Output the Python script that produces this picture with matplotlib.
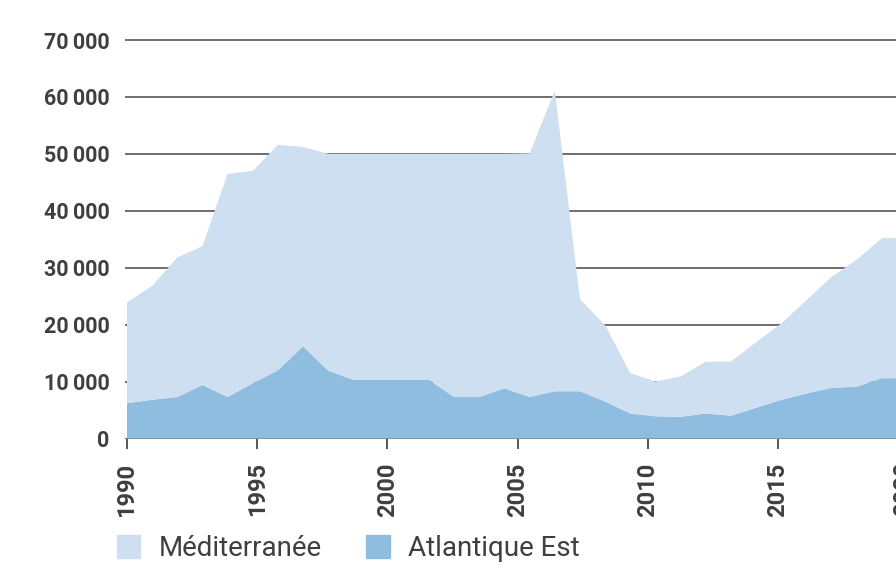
import numpy as np
import matplotlib
matplotlib.use("Agg")
import matplotlib.pyplot as plt
from matplotlib.patches import Patch

plt.rcParams['font.family'] = ['Roboto', 'DejaVu Sans']

#########Data (tonnes)############
years = np.arange(1990, 2022)
atlantique = [6200, 6800, 7300, 9400, 7300, 9700, 12000, 16200, 11900, 10300,
              10300, 10300, 10300, 7300, 7300, 8800, 7300, 8300, 8300, 6500,
              4400, 3900, 3800, 4400, 4000, 5400, 6800, 7900, 8900, 9100,
              10600, 10600]
mediterranee = [17700, 20000, 24500, 24400, 39200, 37300, 39600, 35000, 38100, 39700,
                39700, 39700, 39700, 42700, 42700, 41200, 42800, 52800, 16200, 13400,
                7100, 6100, 7100, 9100, 9500, 11500, 13400, 16400, 19500, 22300,
                24600, 24600]
labels = ['Méditerranée', 'Atlantique Est']
tick_years = [1990, 1995, 2000, 2005, 2010, 2015]
last_year = 2020
y_ticks = np.arange(0, 70001, 10000)
###################################

light = '#cddff0'
dark = '#8fbde0'
text_col = '#3f3f3f'

fig = plt.figure(figsize=(8.96, 5.70), dpi=100)
ax = fig.add_axes([0.1395, 0.2307, 0.8605, 0.7091])

# atlantique at the bottom, mediterranee stacked on top
ax.stackplot(years, atlantique, mediterranee, colors=[dark, light], linewidth=0, zorder=2)

# the reference's year labels are spaced a bit wider than its data points
ax.set_xticks([1990 + (y - 1990) * 1.035 for y in tick_years])
ax.set_xticklabels([str(y) for y in tick_years], rotation=90, fontsize=17,
                   fontweight='semibold', color=text_col)
ax.tick_params(axis='x', length=7.2, width=1.4, color='#555555', pad=10)

ax.set_yticks(y_ticks)
ax.set_yticklabels([f"{v:,}".replace(",", "\u2009") for v in y_ticks], fontsize=15.5,
                   fontweight='semibold', color=text_col)
ax.tick_params(axis='y', length=0, pad=11)

# limits after the ticks so set_xticks can't widen them
ax.set_xlim(1989.92, 2020.56)
ax.set_ylim(0, 71000)

# 2020 label sits past the right edge, only a sliver shows
ax.text(2020.87, -0.058, str(last_year), transform=ax.get_xaxis_transform(),
        rotation=90, ha='center', va='top', fontsize=17, fontweight='semibold',
        color=text_col)

ax.grid(axis='y', color='#6e6e6e', linewidth=1.4, zorder=1)
ax.set_axisbelow(True)
for s in ax.spines.values():
    s.set_visible(False)

handles = [Patch(color=light, label=labels[0]), Patch(color=dark, label=labels[1])]
leg = fig.legend(handles=handles, loc='lower left', bbox_to_anchor=(0.118, -0.005),
                 ncol=2, frameon=False, fontsize=20, handlelength=0.85, handleheight=0.9,
                 handletextpad=0.65, columnspacing=1.6, borderaxespad=0)
for t in leg.get_texts():
    t.set_color(text_col)

plt.savefig('out.png', dpi=100)
